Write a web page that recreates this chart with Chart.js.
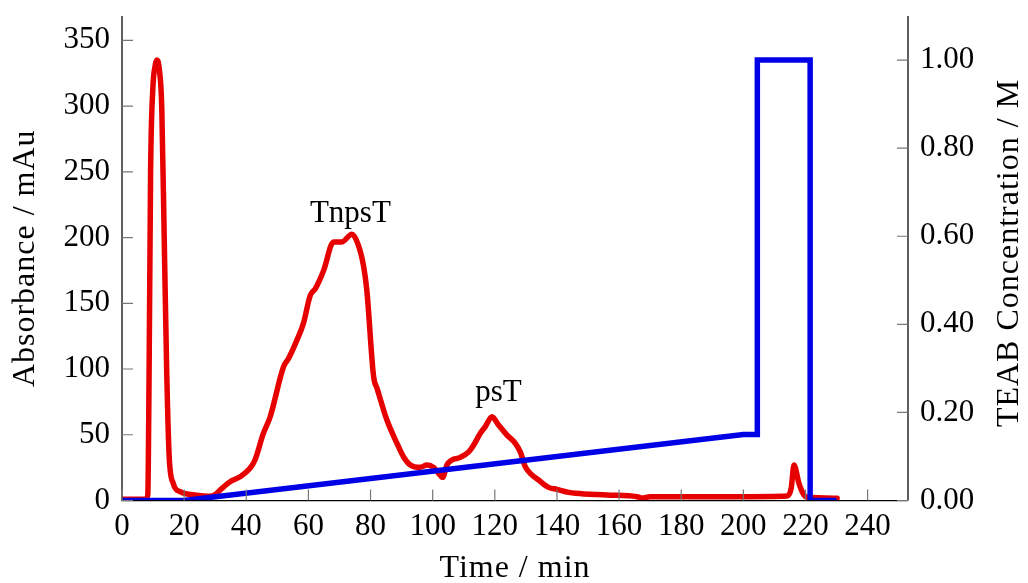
<!DOCTYPE html>
<html>
<head>
<meta charset="utf-8">
<script src="https://cdn.jsdelivr.net/npm/chart.js@4.4.0/dist/chart.umd.min.js"></script>
<style>
  html, body { margin: 0; padding: 0; background: #fff; }
  canvas { display: block; }
</style>
</head>
<body>
<canvas id="chromChart" width="1028" height="583"></canvas>
<script>
// absorbance trace (red)
const redTime = [0, 7.5, 8.3, 8.7, 9.2, 9.9, 10.7, 11.2, 11.9, 12.8, 13.6, 14.4, 15.2, 16.5, 18.7,
  24, 28, 30, 31.6, 34.8, 38, 41.2, 42.8, 45.5, 47.7, 52, 53.6, 56.3, 58.4, 60.6, 62.2, 64.9,
  68.1, 70.8, 74, 76.1, 77.8, 78.8, 81, 82.1, 85.3, 88.5, 90.6, 92.8, 96, 98.2, 100.3, 101.9,
  103.2, 104.6, 106.2, 108.9, 111.6, 113.2, 115.3, 116.9, 119.1, 121.2, 123.9, 126.6, 128.2,
  129.8, 131.4, 134.1, 137.3, 140, 143.8, 146, 156, 165.8, 167.4, 170, 183, 199, 214.1, 215.4,
  216.3, 217.9, 219.5, 220.6, 230.2];
const redAbs = [1, 1, 4, 90, 249, 312, 331, 335, 330, 299, 198, 97, 33, 13, 6.7,
  4, 3.2, 4.5, 8, 14.3, 18, 24.5, 30.8, 51, 63.7, 101.7, 108, 122, 134.7, 156, 161, 175,
  196.7, 196.7, 202.5, 194, 177.7, 160, 94, 85.3, 61, 43.5, 33.3, 27, 25.2, 27, 25.2, 20.7,
  17.6, 27, 30.8, 32.8, 37, 42.2, 51, 56, 63.7, 57.4, 49.8, 43.5, 37,
  25.7, 20.7, 15.6, 10, 8.5, 6.2, 5.5, 4.2, 2.9, 1.9, 2.9, 2.9, 2.9, 3.4, 9.3,
  27, 13, 4.2, 2.4, 1.7];

// TEAB gradient (blue)
const blueTime = [0, 20, 200, 204.5, 204.5, 221.5, 221.5, 230];
const blueConc = [0, 0, 0.15, 0.15, 1.0, 1.0, 0, 0];

// ticks
const xTicks = [0, 20, 40, 60, 80, 100, 120, 140, 160, 180, 200, 220, 240];
const absTicks = [0, 50, 100, 150, 200, 250, 300, 350];
const concTicks = [0, 0.2, 0.4, 0.6, 0.8, 1.0];

// peak labels
const peakNames = ['TnpsT', 'psT'];
const peakTime = [73.5, 121.2];
const peakAbs = [212, 76];

const serif = '"Liberation Serif", "Times New Roman", serif';

const axesPlugin = {
  id: 'axesPlugin',
  afterDatasetsDraw(chart) {
    const { ctx, chartArea: a, scales } = chart;
    ctx.save();
    // axis lines
    ctx.strokeStyle = '#000';
    ctx.lineWidth = 1.25;
    ctx.beginPath();
    ctx.moveTo(a.left, a.top);
    ctx.lineTo(a.left, a.bottom);
    ctx.lineTo(a.right, a.bottom);
    ctx.moveTo(a.right, a.top);
    ctx.lineTo(a.right, a.bottom);
    ctx.stroke();
    // small ticks pointing inwards
    ctx.strokeStyle = '#777';
    ctx.lineWidth = 1.2;
    ctx.beginPath();
    xTicks.forEach(v => {
      const x = scales.x.getPixelForValue(v);
      ctx.moveTo(x, a.bottom);
      ctx.lineTo(x, a.bottom - 11);
    });
    absTicks.forEach(v => {
      const y = scales.y.getPixelForValue(v);
      ctx.moveTo(a.left, y);
      ctx.lineTo(a.left + 11, y);
    });
    concTicks.forEach(v => {
      const y = scales.y1.getPixelForValue(v);
      ctx.moveTo(a.right, y);
      ctx.lineTo(a.right - 11, y);
    });
    ctx.stroke();

    // peak names
    ctx.fillStyle = '#000';
    ctx.font = '31px ' + serif;
    ctx.textAlign = 'center';
    ctx.textBaseline = 'alphabetic';
    peakNames.forEach((name, i) => {
      ctx.fillText(name, scales.x.getPixelForValue(peakTime[i]), scales.y.getPixelForValue(peakAbs[i]));
    });

    // axis titles
    ctx.font = '32px ' + serif;
    ctx.letterSpacing = '1px';
    ctx.fillText('Time / min', (a.left + a.right) / 2, 577);

    ctx.save();
    ctx.translate(34, (a.top + a.bottom) / 2);
    ctx.rotate(-Math.PI / 2);
    ctx.fillText('Absorbance / mAu', 0, 0);
    ctx.restore();

    ctx.save();
    ctx.translate(1018, 253);
    ctx.rotate(-Math.PI / 2);
    ctx.fillText('TEAB Concentration / M', 0, 0);
    ctx.restore();
    ctx.restore();
  }
};

function noPad(s) {
  s.paddingTop = 0;
  s.paddingBottom = 0;
  s.paddingLeft = 0;
  s.paddingRight = 0;
}

const ctx = document.getElementById('chromChart').getContext('2d');

new Chart(ctx, {
  type: 'line',
  data: {
    datasets: [
      {
        label: 'Absorbance',
        data: redTime.map((t, i) => ({ x: t, y: redAbs[i] })),
        yAxisID: 'y',
        borderColor: 'rgb(230, 0, 0)',
        borderWidth: 5.5,
        pointRadius: 0,
        cubicInterpolationMode: 'monotone',
        borderJoinStyle: 'round',
        borderCapStyle: 'round',
        order: 2
      },
      {
        label: 'TEAB',
        data: blueTime.map((t, i) => ({ x: t, y: blueConc[i] })),
        yAxisID: 'y1',
        borderColor: 'rgb(0, 0, 230)',
        borderWidth: 5.5,
        pointRadius: 0,
        tension: 0,
        borderJoinStyle: 'miter',
        order: 1
      }
    ]
  },
  options: {
    responsive: false,
    animation: false,
    devicePixelRatio: 1,
    layout: { padding: { top: 16, left: 0, right: 0, bottom: 0 } },
    plugins: {
      legend: { display: false },
      tooltip: { enabled: false }
    },
    scales: {
      x: {
        type: 'linear',
        min: 0,
        max: 253,
        afterBuildTicks: s => { s.ticks = xTicks.map(v => ({ value: v })); },
        afterFit: s => { s.height = 82.5; noPad(s); },
        grid: { display: false, drawTicks: false },
        border: { display: false },
        ticks: { color: '#000', font: { family: serif, size: 31 }, padding: 8, maxRotation: 0, autoSkip: false }
      },
      y: {
        position: 'left',
        min: 0,
        max: 368.5,
        afterBuildTicks: s => { s.ticks = absTicks.map(v => ({ value: v })); },
        afterFit: s => { s.width = 122; noPad(s); },
        grid: { display: false, drawTicks: false },
        border: { display: false },
        ticks: { color: '#000', font: { family: serif, size: 31 }, padding: 12, callback: v => String(v) }
      },
      y1: {
        position: 'right',
        min: 0,
        max: 1.1,
        afterBuildTicks: s => { s.ticks = concTicks.map(v => ({ value: v })); },
        afterFit: s => { s.width = 120; noPad(s); },
        grid: { display: false, drawTicks: false },
        border: { display: false },
        ticks: { color: '#000', font: { family: serif, size: 31 }, padding: 12, callback: v => v.toFixed(2) }
      }
    }
  },
  plugins: [axesPlugin]
});
</script>
</body>
</html>
